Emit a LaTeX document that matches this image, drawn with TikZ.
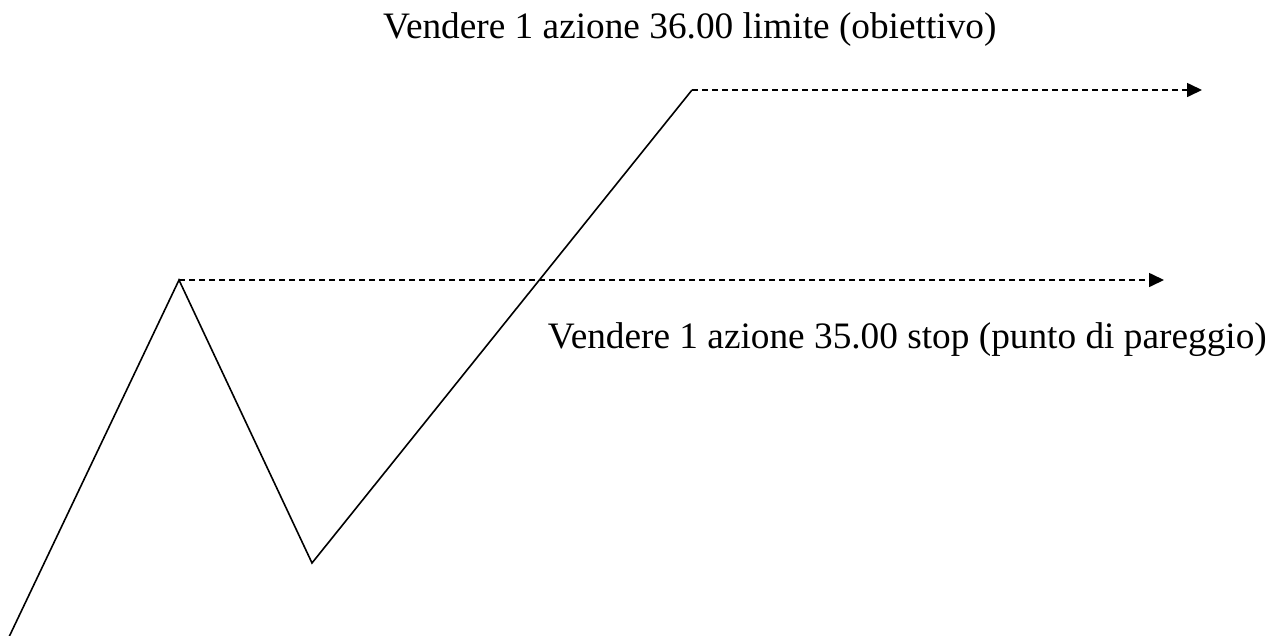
\documentclass[tikz,border=0pt]{standalone}
\usepackage{fontspec}
\setmainfont{Liberation Serif}
\usetikzlibrary{arrows.meta}
\begin{document}
\begin{tikzpicture}[x=1pt,y=-1pt,
  price/.style={line width=1.6pt,line join=miter},
  level/.style={line width=1.6pt,dash pattern=on 6pt off 4pt,-{Triangle[length=15pt,width=14pt]}},
  lbl/.style={inner sep=0pt,font=\fontsize{37.3}{40}\selectfont}]
\useasboundingbox (0,0) rectangle (1281,635);
\coordinate (s) at (9,637);
\coordinate (p1) at (179,280);
\coordinate (t1) at (312,563);
\coordinate (p2) at (692,90);
\coordinate (e1) at (1202,90);
\coordinate (e2) at (1164,280);
\draw[price] (s) -- (p1) -- (t1) -- (p2);
\draw[level] (p2) -- (e1);
\draw[level] (p1) -- (e2);
\node[lbl,anchor=base west] (top) at (383,38) {Vendere 1 azione 36.00 limite (obiettivo)};
\node[lbl,anchor=base east] (bot) at (1267,348) {Vendere 1 azione 35.00 stop (punto di pareggio)};
\end{tikzpicture}
\end{document}
